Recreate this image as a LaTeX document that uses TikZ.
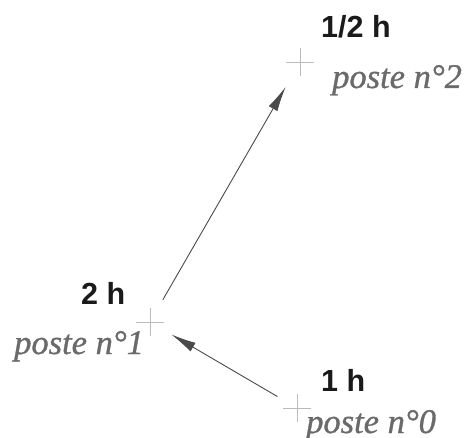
\documentclass[tikz,border=0pt]{standalone}
\usepackage{fontspec}
\setmainfont{Liberation Serif}
\newfontfamily\hfont{Liberation Sans}
\newfontfamily\pfont[FakeBold=0.9]{Liberation Serif}
\usetikzlibrary{arrows.meta}
\definecolor{crossgray}{HTML}{BBBBBB}
\definecolor{postegray}{HTML}{6A6A6A}
\definecolor{arrowgray}{HTML}{4A4A4A}
\definecolor{hblack}{HTML}{1A1A1A}
\tikzset{
  station/.style={circle, minimum size=48pt, inner sep=0pt},
  crossline/.style={draw=crossgray, line width=0.7pt},
  hlabel/.style={font=\hfont\bfseries\fontsize{30.5}{30.5}\selectfont, text=hblack, inner sep=0pt, anchor=base west},
  plabel/.style={font=\pfont\itshape\fontsize{34.5}{34.5}\selectfont, text=postegray, inner sep=0pt, anchor=base west},
  flow/.style={draw=arrowgray, line width=0.9pt, -{Latex[length=25pt, width=10pt]}}
}
\begin{document}
\begin{tikzpicture}[x=1pt,y=-1pt]
\useasboundingbox (0,0) rectangle (471,438);
% stations
\node[station] (p2) at (300,62) {};
\node[station] (p1) at (150,322) {};
\node[station] (p0) at (297,408) {};
% crosses
\foreach \p in {p2,p1,p0}{
  \draw[crossline] (\p.center) ++(-14,0) -- ++(28,0);
  \draw[crossline] (\p.center) ++(0,-14) -- ++(0,28);
}
% labels
\node[hlabel] (h2) at (321,38) {1/2 h};
\node[plabel] (n2) at (332,88) {poste n°2};
\node[hlabel] (h1) at (81,305) {2 h};
\node[plabel] (n1) at (14,354) {poste n°1};
\node[hlabel] (h0) at (321,391) {1 h};
\node[plabel] (n0) at (306,433) {poste n°0};
% arrows
\draw[flow, shorten <=1.5pt, shorten >=4.6pt] (p1) -- (p2);
\draw[flow, shorten <=-1.5pt, shorten >=0.6pt] (p0) -- (p1);
\end{tikzpicture}
\end{document}
